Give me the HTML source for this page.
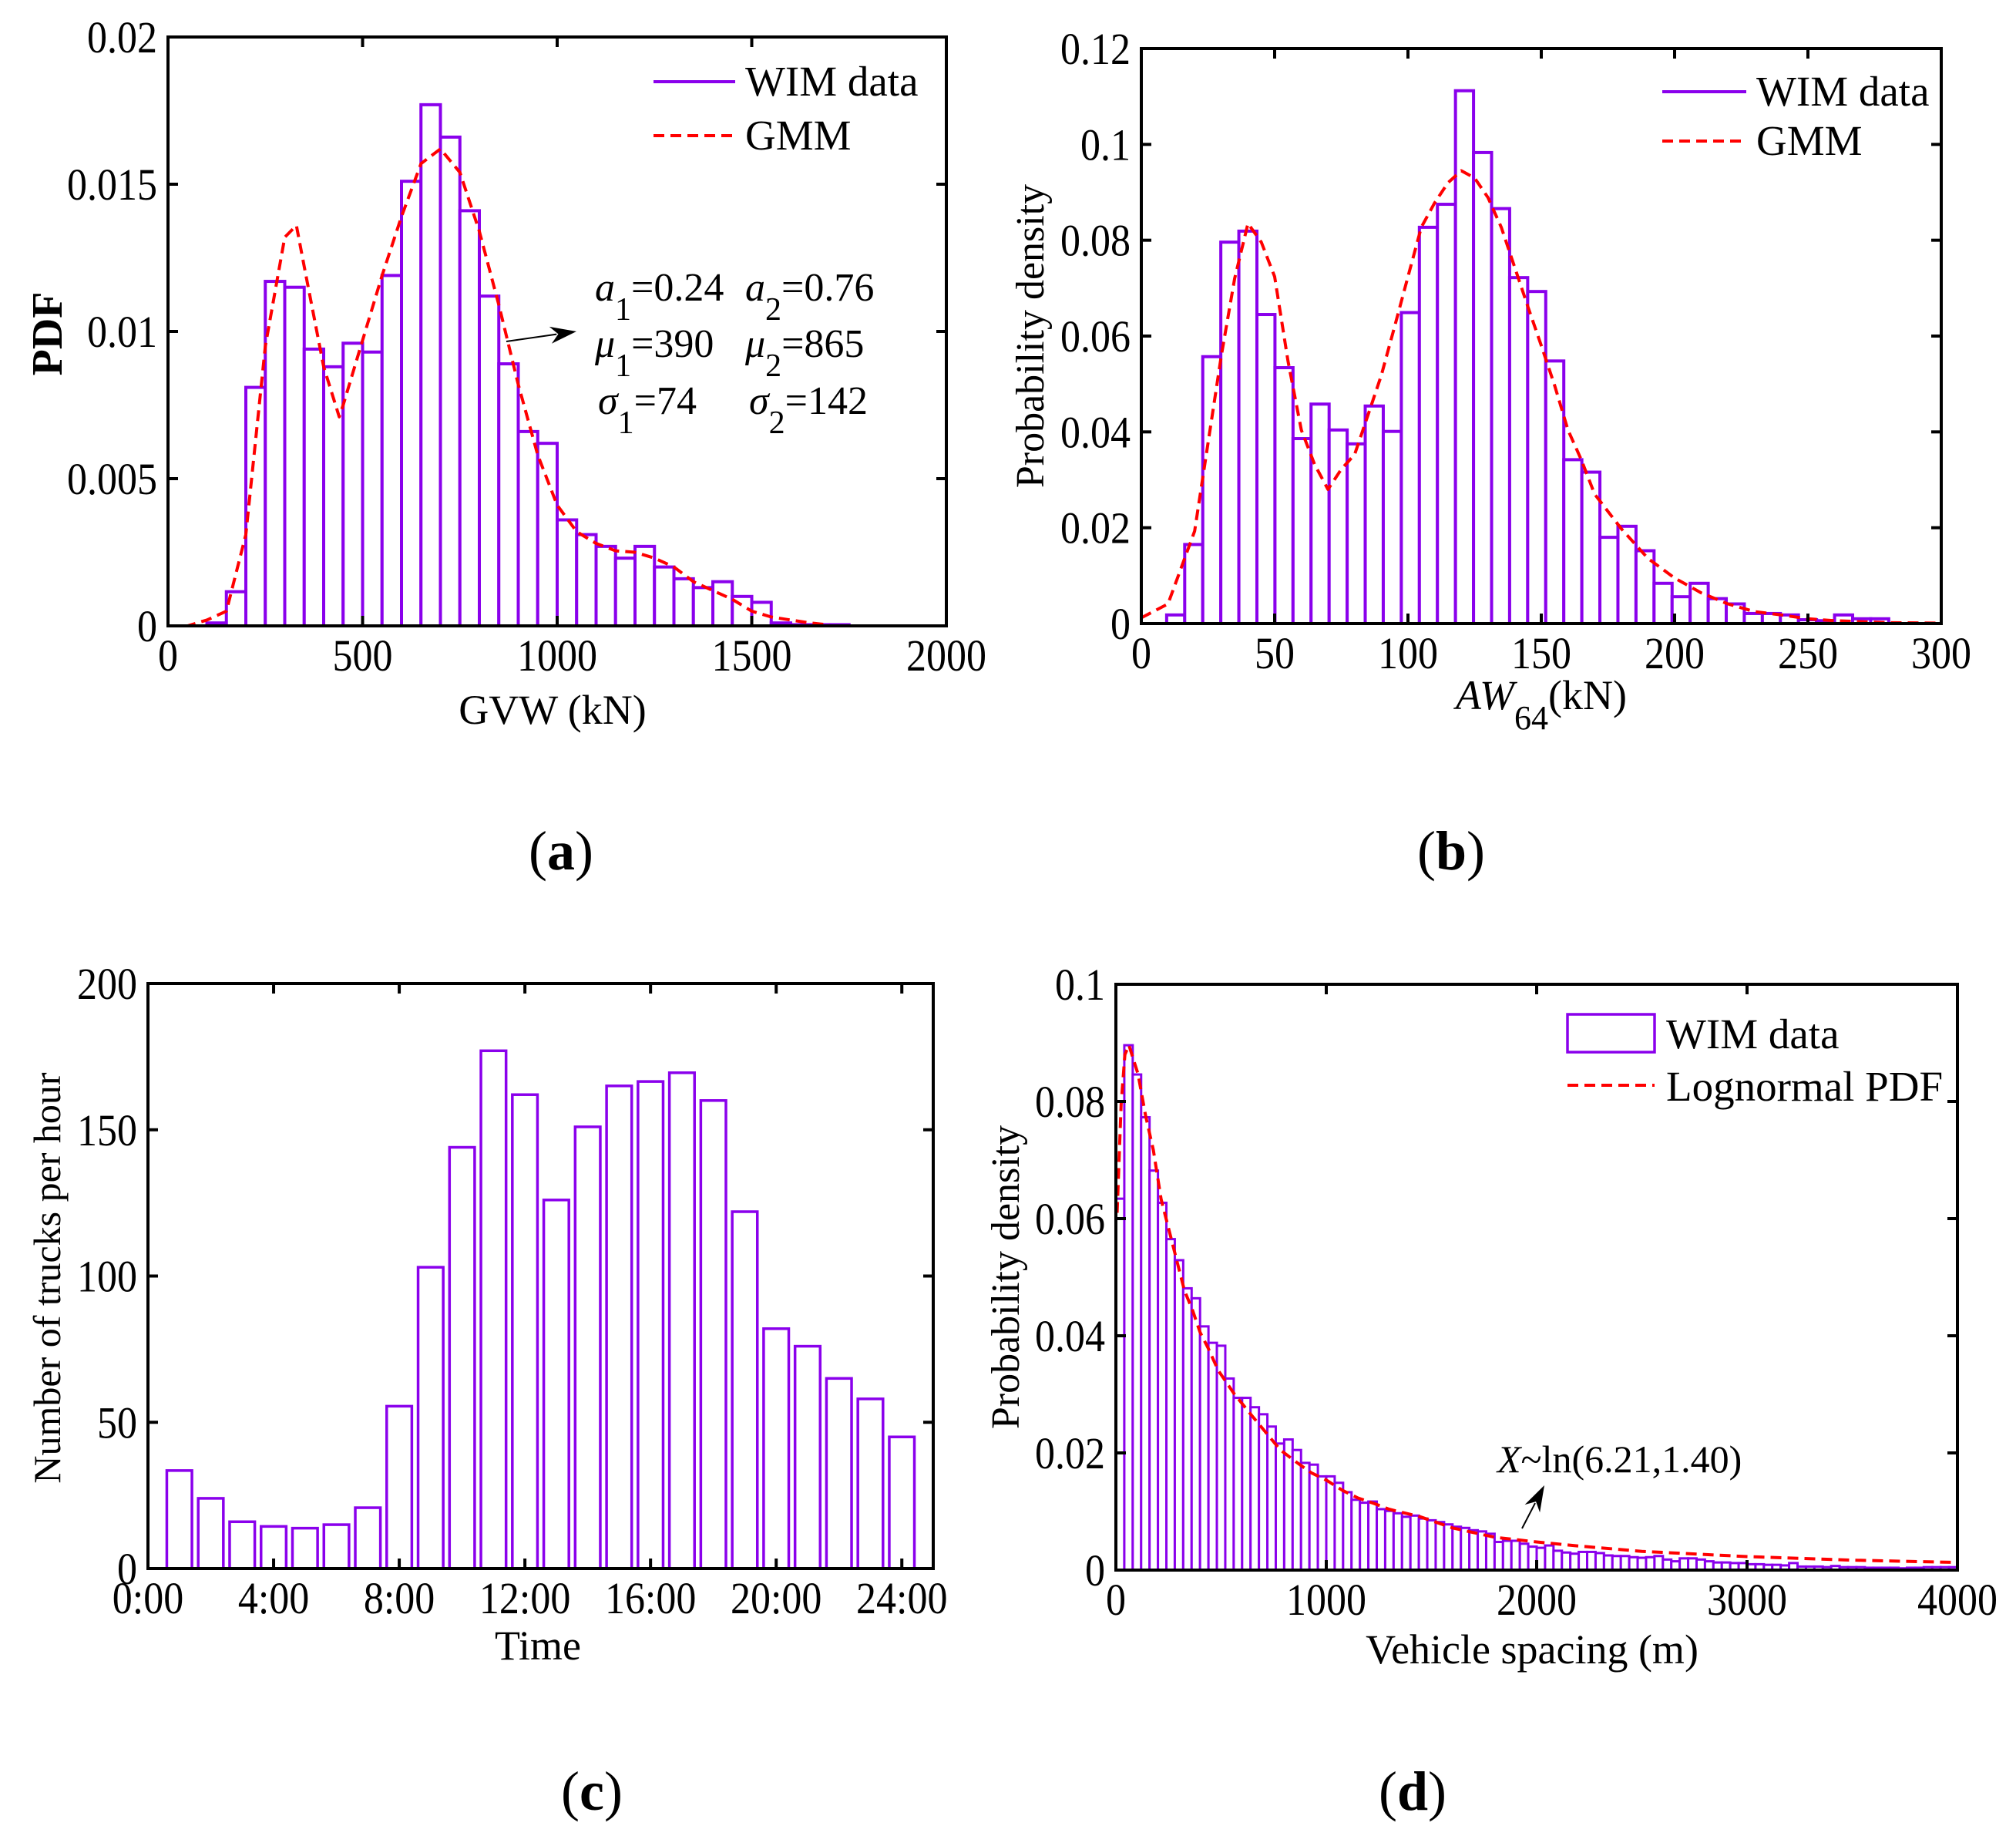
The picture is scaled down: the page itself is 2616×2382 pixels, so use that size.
<!DOCTYPE html>
<html><head><meta charset="utf-8">
<style>
html,body{margin:0;padding:0;background:#fff;}
svg{display:block;}
text{font-family:"Liberation Serif",serif;fill:#000;}
</style></head>
<body>
<svg id="fig" xmlns="http://www.w3.org/2000/svg" width="2616" height="2382" viewBox="0 0 2616 2382">
<rect x="0" y="0" width="2616" height="2382" fill="#fff"/>
</svg>
<script>
// ---------- Panel A data (GVW) ----------
const aBinStart = 100;
const aBinWidth = 50;
const aHist = [0.0001,0.00116,0.0081,0.0117,0.0115,0.0094,0.0088,0.0096,0.0093,0.0119,0.0151,0.0177,0.0166,0.0141,0.0112,0.0089,0.0066,0.0062,0.0036,0.0031,0.0027,0.0023,0.0027,0.0020,0.0016,0.0013,0.0015,0.0010,0.0008,0.0001,0.00004,0.00004,0.00004];
const aCurveX = [0,50,100,150,200,250,300,330,350,400,440,450,500,550,600,650,700,750,800,850,900,950,1000,1050,1100,1150,1200,1250,1300,1350,1400,1450,1500,1550,1600,1650,1700];
const aCurveY = [0,0,0.0002,0.0005,0.0031,0.0095,0.0132,0.0136,0.0122,0.0088,0.0071,0.0075,0.0097,0.0119,0.0139,0.0157,0.0162,0.0154,0.0134,0.0109,0.0082,0.0058,0.0041,0.0032,0.0028,0.00255,0.0025,0.0023,0.0020,0.0015,0.0012,0.0009,0.0005,0.0003,0.0002,0.0001,0.00003];
const aXTicks = [0,500,1000,1500,2000];
const aYTicks = [0,0.005,0.01,0.015,0.02];
const aYLabels = ["0","0.005","0.01","0.015","0.02"];

// ---------- Panel B data (AW64) ----------
const bBinStart = 9.5;
const bBinWidth = 6.77;
const bHist = [0.0018,0.0165,0.0557,0.0796,0.0819,0.0645,0.0534,0.0386,0.0458,0.0404,0.0375,0.0454,0.0401,0.0649,0.0827,0.0875,0.1112,0.0983,0.0866,0.0722,0.0693,0.0548,0.0342,0.0316,0.018,0.0203,0.0152,0.0084,0.0056,0.0084,0.0052,0.0041,0.0021,0.0021,0.0018,0.0008,0.0006,0.0018,0.001,0.001];
const bCurveX = [0,10,20,30,35,40,45,50,55,60,65,70,75,80,85,90,95,100,105,110,115,120,125,130,135,140,145,150,155,160,165,170,180,190,200,210,220,230,240,250,260,280,300];
const bCurveY = [0.0012,0.0041,0.0193,0.0559,0.072,0.0835,0.0796,0.0724,0.0548,0.0404,0.0332,0.028,0.0322,0.0353,0.0435,0.0518,0.062,0.0724,0.0827,0.0878,0.092,0.0945,0.093,0.0889,0.0827,0.0744,0.0661,0.058,0.0497,0.0404,0.0342,0.027,0.0198,0.0136,0.0095,0.0064,0.0041,0.0025,0.0018,0.001,0.0006,0.0002,0.0001];
const bXTicks = [0,50,100,150,200,250,300];
const bYTicks = [0,0.02,0.04,0.06,0.08,0.1,0.12];
const bYLabels = ["0","0.02","0.04","0.06","0.08","0.1","0.12"];

// ---------- Panel C data (hourly trucks) ----------
const cHours = [1,2,3,4,5,6,7,8,9,10,11,12,13,14,15,16,17,18,19,20,21,22,23,24];
const cCounts = [33.5,24,16,14.4,13.8,15,20.8,55.5,103,144,177,162,126,151,165,166.5,169.5,160,122,82,76,65,58,45];
const cXTicks = [0,4,8,12,16,20,24];
const cXLabels = ["0:00","4:00","8:00","12:00","16:00","20:00","24:00"];
const cYTicks = [0,50,100,150,200];

// ---------- Panel D data (vehicle spacing) ----------
const dBinStart = 0;
const dBinWidth = 40;
const dHist = [0.0634,0.0896,0.0846,0.0773,0.0682,0.0627,0.0565,0.0529,0.0481,0.0464,0.0416,0.0388,0.0383,0.0327,0.0294,0.0294,0.0278,0.0266,0.0245,0.0216,0.0223,0.0205,0.0183,0.018,0.016,0.016,0.0149,0.0133,0.012,0.0115,0.0117,0.0104,0.0101,0.0097,0.0091,0.0093,
0.0088,0.0085,0.0082,0.0078,0.0074,0.0072,0.0068,0.0066,0.0062,0.0048,0.0050,0.0050,0.0045,0.0040,0.0038,0.0042,0.0033,0.0030,0.0028,0.0031,0.0031,0.0029,0.0025,0.0024,0.0024,0.0022,0.0021,0.0022,0.0024,0.0018,0.0015,0.0020,0.0020,0.0018,0.0015,0.0013,0.0013,0.0012,0.0012,0.0010,0.0010,0.0009,0.0009,0.0008,0.0012,0.0006,0.0006,0.0006,0.0005,0.0007,0.0005,0.0005,0.0005,0.0004,0.0004,0.0004,0.0004,0.0003,0.0004,0.0004,0.0005,0.0005,0.0005,0.0005];
const dCurveX = [6,25,43,62,105,141,178,215,252,289,326,363,400,437,486,560,634,708,782,855,929,1003,1077,1151,1225,1298,1446,1600,1800,2000,2200,2500,3000,3500,4000];
const dCurveY = [0.061,0.0795,0.088,0.0896,0.0847,0.0776,0.0717,0.0633,0.0581,0.0529,0.0477,0.0445,0.0406,0.038,0.0341,0.0302,0.0269,0.0237,0.0205,0.0185,0.0166,0.0153,0.0136,0.0123,0.0114,0.0104,0.0091,0.0072,0.0056,0.0048,0.0041,0.0032,0.0023,0.0017,0.0013];
const dXTicks = [0,1000,2000,3000,4000];
const dYTicks = [0,0.02,0.04,0.06,0.08,0.1];
const dYLabels = ["0","0.02","0.04","0.06","0.08","0.1"];

const NS = "http://www.w3.org/2000/svg";
const svg = document.getElementById("fig");
const PURPLE = "#8a00ec";
const RED = "#ff0000";

function mk(tag, attrs, parent) {
  const e = document.createElementNS(NS, tag);
  for (const k in attrs) e.setAttribute(k, attrs[k]);
  (parent || svg).appendChild(e);
  return e;
}
function scale(d0, d1, r0, r1) { return v => r0 + (v - d0) / (d1 - d0) * (r1 - r0); }

function axes(P, xTicks, xLabels, yTicks, yLabels, name) {
  const g = mk("g", {});
  
  
  const tl = 13;
  for (let i = 0; i < xTicks.length; i++) {
    const x = P.sx(xTicks[i]);
    mk("line", {x1:x, x2:x, y1:P.y1, y2:P.y1 - tl, stroke:"#000", "stroke-width":4}, g);
    mk("line", {x1:x, x2:x, y1:P.y0, y2:P.y0 + tl, stroke:"#000", "stroke-width":4}, g);
    const t = mk("text", {x:0, y:0, "text-anchor":"middle", "font-size":P.fs, transform:`translate(${x},${P.y1 + 58}) scale(1,1.12)`}, g);
    t.textContent = xLabels[i];
    
    
  }
  for (let i = 0; i < yTicks.length; i++) {
    const y = P.sy(yTicks[i]);
    mk("line", {x1:P.x0, x2:P.x0 + tl, y1:y, y2:y, stroke:"#000", "stroke-width":4}, g);
    mk("line", {x1:P.x1, x2:P.x1 - tl, y1:y, y2:y, stroke:"#000", "stroke-width":4}, g);
    const t = mk("text", {x:0, y:0, "text-anchor":"end", "font-size":P.fs, transform:`translate(${P.x0 - 14},${y + 20}) scale(1,1.12)`}, g);
    t.textContent = yLabels[i];
    
    
  }
  const box = mk("rect", {x:P.x0, y:P.y0, width:P.x1 - P.x0, height:P.y1 - P.y0, fill:"none", stroke:"#000", "stroke-width":4}, g);
  
  
}

function hist(P, start, width, vals, sw, name) {
  const g = mk("g", {});
  
  
  for (let i = 0; i < vals.length; i++) {
    const xa = P.sx(start + i * width), xb = P.sx(start + (i + 1) * width);
    const yt = P.sy(vals[i]);
    const r = mk("rect", {x:xa, y:yt, width:xb - xa, height:P.y1 - yt, fill:"#fff", stroke:PURPLE, "stroke-width":sw}, g);
    
    
  }
}

function curve(P, xs, ys, name) {
  let d = "";
  for (let i = 0; i < xs.length; i++) d += (i ? "L" : "M") + P.sx(xs[i]).toFixed(1) + "," + P.sy(ys[i]).toFixed(1);
  const p = mk("path", {d:d, fill:"none", stroke:RED, "stroke-width":4, "stroke-dasharray":"14,8", "stroke-linejoin":"round"});
  
  
}

function txt(x, y, s, opts, name) {
  const t = mk("text", Object.assign({x:x, y:y}, opts || {}));
  t.textContent = s;
  
  
  return t;
}

function arrow(x1, y1, x2, y2, name) {
  const g = mk("g", {});
  
  
  const ang = Math.atan2(y2 - y1, x2 - x1), L = 34, W = 11;
  const bx = x2 - L * Math.cos(ang), by = y2 - L * Math.sin(ang);
  mk("line", {x1:x1, y1:y1, x2:bx + 8 * Math.cos(ang), y2:by + 8 * Math.sin(ang), stroke:"#000", "stroke-width":2}, g);
  const nx = -Math.sin(ang), ny = Math.cos(ang);
  const mx = x2 - 0.7 * L * Math.cos(ang), my = y2 - 0.7 * L * Math.sin(ang);
  mk("path", {d:`M${x2},${y2}L${bx + W * nx},${by + W * ny}L${mx},${my}L${bx - W * nx},${by - W * ny}Z`, fill:"#000"}, g);
}

// ================= Panel A =================
const A = {x0:218, x1:1228, y0:48, y1:812, fs:52};
A.sx = scale(0, 2000, A.x0, A.x1); A.sy = scale(0, 0.02, A.y1, A.y0);
hist(A, aBinStart, aBinWidth, aHist, 4, "gvw");
curve(A, aCurveX, aCurveY, "gvw-gmm-curve");
axes(A, aXTicks, aXTicks.map(String), aYTicks, aYLabels, "gvw");
txt(0, 0, "PDF", {"font-size":56, "font-weight":"bold", "text-anchor":"middle", transform:"translate(80,433) rotate(-90)"}, "y-axis-title-a");
txt(717, 939, "GVW (kN)", {"font-size":54, "text-anchor":"middle"}, "x-axis-title-a");
mk("line", {x1:848, x2:954, y1:106, y2:106, stroke:PURPLE, "stroke-width":4});
txt(967, 124, "WIM data", {"font-size":55}, "legend-wim-a");
mk("line", {x1:848, x2:954, y1:176, y2:176, stroke:RED, "stroke-width":4, "stroke-dasharray":"14,8"});
txt(967, 194, "GMM", {"font-size":55}, "legend-gmm-a");
function param(x, y, sym, sub, val, name) {
  const t = mk("text", {x:x, y:y, "font-size":52});
  
  
  const s1 = mk("tspan", {"font-style":"italic"}, t); s1.textContent = sym;
  const s2 = mk("tspan", {dy:25, "font-size":42}, t); s2.textContent = sub;
  const s3 = mk("tspan", {dy:-25}, t); s3.textContent = val;
}
param(772, 390, "a", "1", "=0.24", "param-a1");
param(967, 390, "a", "2", "=0.76", "param-a2");
param(772, 463, "\u03bc", "1", "=390", "param-mu1");
param(967, 463, "\u03bc", "2", "=865", "param-mu2");
param(776, 537, "\u03c3", "1", "=74", "param-sigma1");
param(972, 537, "\u03c3", "2", "=142", "param-sigma2");
arrow(657, 443, 748, 430, "annotation-arrow-a");
const la = txt(728, 1128, "", {"font-size":72, "text-anchor":"middle"}, "panel-label-a");
la.innerHTML = '(<tspan font-weight="bold">a</tspan>)';

// ================= Panel B =================
const B = {x0:1481, x1:2519, y0:63, y1:809, fs:52};
B.sx = scale(0, 300, B.x0, B.x1); B.sy = scale(0, 0.12, B.y1, B.y0);
hist(B, bBinStart, bBinWidth, bHist, 4, "aw64");
curve(B, bCurveX, bCurveY, "aw64-gmm-curve");
axes(B, bXTicks, bXTicks.map(String), bYTicks, bYLabels, "aw64");
txt(0, 0, "Probability density", {"font-size":52, "text-anchor":"middle", transform:"translate(1354,436) rotate(-90)"}, "y-axis-title-b");
const xb = txt(2000, 920, "", {"font-size":54, "text-anchor":"middle"}, "x-axis-title-b");
xb.innerHTML = '<tspan font-style="italic">AW</tspan><tspan dy="26" font-size="44">64</tspan><tspan dy="-26">(kN)</tspan>';
mk("line", {x1:2157, x2:2266, y1:119, y2:119, stroke:PURPLE, "stroke-width":4});
txt(2279, 137, "WIM data", {"font-size":55}, "legend-wim-b");
mk("line", {x1:2157, x2:2266, y1:183, y2:183, stroke:RED, "stroke-width":4, "stroke-dasharray":"14,8"});
txt(2279, 201, "GMM", {"font-size":55}, "legend-gmm-b");
const lb = txt(1883, 1128, "", {"font-size":72, "text-anchor":"middle"}, "panel-label-b");
lb.innerHTML = '(<tspan font-weight="bold">b</tspan>)';

// ================= Panel C =================
const C = {x0:192, x1:1211, y0:1276, y1:2035, fs:52};
C.sx = scale(0, 25, C.x0, C.x1); C.sy = scale(0, 200, C.y1, C.y0);
{
  const g = mk("g", {});
  
  
  for (let i = 0; i < cHours.length; i++) {
    const xa = C.sx(cHours[i] - 0.4), xb2 = C.sx(cHours[i] + 0.4), yt = C.sy(cCounts[i]);
    const r = mk("rect", {x:xa, y:yt, width:xb2 - xa, height:C.y1 - yt, fill:"#fff", stroke:PURPLE, "stroke-width":3.5}, g);
    
    
  }
}
axes(C, cXTicks, cXLabels, cYTicks, cYTicks.map(String), "hourly");
txt(0, 0, "Number of trucks per hour", {"font-size":50, "text-anchor":"middle", transform:"translate(78,1658) rotate(-90)"}, "y-axis-title-c");
txt(698, 2153, "Time", {"font-size":54, "text-anchor":"middle"}, "x-axis-title-c");
const lc = txt(768, 2348, "", {"font-size":72, "text-anchor":"middle"}, "panel-label-c");
lc.innerHTML = '(<tspan font-weight="bold">c</tspan>)';

// ================= Panel D =================
const D = {x0:1448, x1:2540, y0:1277, y1:2037, fs:52};
D.sx = scale(0, 4000, D.x0, D.x1); D.sy = scale(0, 0.1, D.y1, D.y0);
hist(D, dBinStart, dBinWidth, dHist, 3, "spacing");
curve(D, dCurveX, dCurveY, "lognormal-pdf-curve");
axes(D, dXTicks, dXTicks.map(String), dYTicks, dYLabels, "spacing");
txt(0, 0, "Probability density", {"font-size":52, "text-anchor":"middle", transform:"translate(1322,1657) rotate(-90)"}, "y-axis-title-d");
txt(1988, 2158, "Vehicle spacing (m)", {"font-size":54, "text-anchor":"middle"}, "x-axis-title-d");
mk("rect", {x:2034, y:1316, width:113, height:49, fill:"#fff", stroke:PURPLE, "stroke-width":3.5});
txt(2162, 1360, "WIM data", {"font-size":55}, "legend-wim-d");
mk("line", {x1:2034, x2:2147, y1:1408, y2:1408, stroke:RED, "stroke-width":4, "stroke-dasharray":"14,8"});
txt(2162, 1428, "Lognormal PDF", {"font-size":55}, "legend-lognormal-d");
const ad = txt(1943, 1910, "", {"font-size":50}, "lognormal-annotation");
ad.innerHTML = '<tspan font-style="italic">X</tspan>~ln(6.21,1.40)';
arrow(1975, 1983, 2004, 1927, "annotation-arrow-d");
const ld = txt(1833, 2348, "", {"font-size":72, "text-anchor":"middle"}, "panel-label-d");
ld.innerHTML = '(<tspan font-weight="bold">d</tspan>)';
</script>
</body></html>
